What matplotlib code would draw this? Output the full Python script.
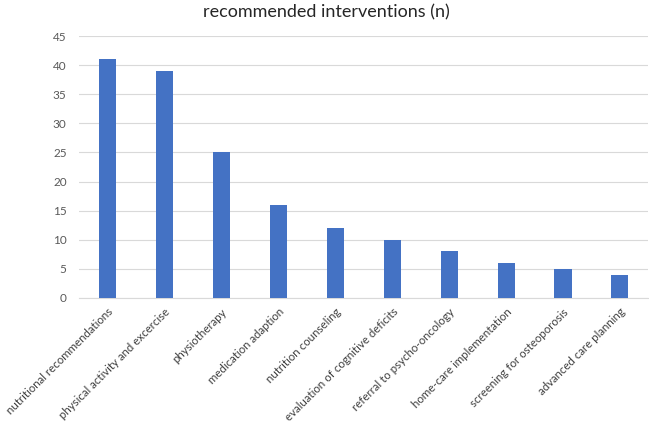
import matplotlib
matplotlib.use("Agg")
import matplotlib.pyplot as plt

categories = ["nutritional recommendations", "physical activity and excercise",
              "physiotherapy", "medication adaption", "nutrition counseling",
              "evaluation of cognitive deficits", "referral to psycho-oncology",
              "home-care implementation", "screening for osteoporosis",
              "advanced care planning"]
values = [41, 39, 25, 16, 12, 10, 8, 6, 5, 4]
yticks = [0, 5, 10, 15, 20, 25, 30, 35, 40, 45]
title = "recommended interventions (n)"

plt.rcParams['font.family'] = ['Lato', 'DejaVu Sans']

fig = plt.figure(figsize=(6.49, 4.25), dpi=100)
ax = fig.add_axes([0.122, 0.299, 0.877, 0.616])
x = list(range(len(categories)))
ax.bar(x, values, width=0.30, color="#4472C4", zorder=3)
ax.set_xlim(-0.5, len(categories) - 0.5)
ax.set_ylim(0, 45)
ax.set_yticks(yticks)
ax.set_yticklabels([str(v) for v in yticks], fontsize=8.5, color="#595959")
ax.set_xticks(x)
ax.set_xticklabels(categories, rotation=45, ha="right", rotation_mode="anchor",
                   fontsize=8.3, color="#404040")
ax.grid(axis="y", color="#D9D9D9", linewidth=0.8, zorder=0)
for s in ["top", "right", "left"]:
    ax.spines[s].set_visible(False)
ax.spines["bottom"].set_color("#D9D9D9")
ax.tick_params(axis="both", length=0)
ax.tick_params(axis="y", pad=9)
ax.tick_params(axis="x", pad=6)
fig.text(0.503, 0.972, title, ha="center", va="center", fontsize=13, color="#262626")
fig.savefig("out.png", dpi=100)
